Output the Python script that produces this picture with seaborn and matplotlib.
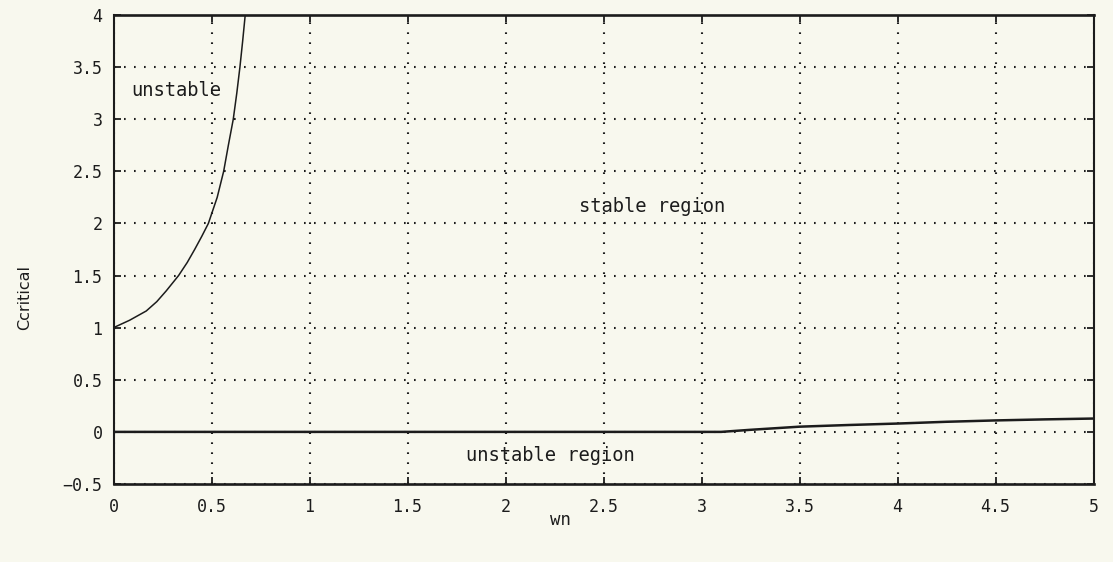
import numpy as np
import pandas as pd
import matplotlib
matplotlib.use("Agg")
import matplotlib.pyplot as plt
import seaborn as sns

# Upper stability boundary (left branch)
upper_wn = [0.0, 0.082, 0.167, 0.221, 0.269, 0.332, 0.376, 0.414, 0.450, 0.484,
            0.529, 0.562, 0.586, 0.611, 0.629, 0.645, 0.659, 0.672]
upper_c = [1.0, 1.071, 1.16, 1.25, 1.353, 1.5, 1.625, 1.75, 1.875, 2.0,
           2.25, 2.5, 2.75, 3.0, 3.25, 3.5, 3.75, 4.0]

# Lower stability boundary
lower_wn = [0.0, 1.0, 2.0, 3.0, 3.1, 3.25, 3.5, 3.75, 4.0, 4.25, 4.5, 4.75, 5.0]
lower_c = [0.0, 0.0, 0.0, 0.0, 0.0, 0.02, 0.05, 0.066, 0.08, 0.097, 0.11, 0.12, 0.128]

x_ticks = [0, 0.5, 1, 1.5, 2, 2.5, 3, 3.5, 4, 4.5, 5]
y_ticks = [-0.5, 0, 0.5, 1, 1.5, 2, 2.5, 3, 3.5, 4]
x_tick_labels = ["0", "0.5", "1", "1.5", "2", "2.5", "3", "3.5", "4", "4.5", "5"]
y_tick_labels = ["\u22120.5", "0", "0.5", "1", "1.5", "2", "2.5", "3", "3.5", "4"]

annotations = [
    ("unstable", 0.093, 3.28),
    ("stable region", 2.375, 2.16),
    ("unstable region", 1.80, -0.23),
]

bg = "#f8f8ee"
ink = "#1c1c1c"
mono = ["DejaVu Sans Mono", "DejaVu Sans"]

sns.set_theme(style="ticks")
plt.rcParams["font.family"] = mono

fig = plt.figure(figsize=(11.13, 5.62), dpi=100, facecolor=bg)
ax = fig.add_axes([113.5 / 1113, 1 - 484 / 562, 980 / 1113, (484 - 15) / 562])
ax.set_facecolor(bg)

df_up = pd.DataFrame({"wn": upper_wn, "c": upper_c})
df_lo = pd.DataFrame({"wn": lower_wn, "c": lower_c})
sns.lineplot(data=df_up, x="wn", y="c", ax=ax, color=ink, linewidth=1.1,
             sort=False, estimator=None)
sns.lineplot(data=df_lo, x="wn", y="c", ax=ax, color=ink, linewidth=1.8,
             sort=False, estimator=None)

ax.set_xlim(0, 5)
ax.set_ylim(-0.5, 4)
ax.set_xticks(x_ticks)
ax.set_xticklabels(x_tick_labels)
ax.set_yticks(y_ticks)
ax.set_yticklabels(y_tick_labels)
ax.grid(True, color=ink, linestyle=(0, (0.8, 4)), linewidth=1.5)
ax.set_axisbelow(True)

ax.tick_params(axis="both", direction="in", length=5, width=1.3, colors=ink,
               labelsize=12, top=True, right=True)
ax.tick_params(axis="x", pad=10)
ax.tick_params(axis="y", pad=8)
for s in ax.spines.values():
    s.set_color(ink)
    s.set_linewidth(1.5)
for side in ("top", "bottom"):
    ax.spines[side].set_linewidth(1.9)
ax.set_xlabel("")
ax.set_ylabel("")

for txt, x, y in annotations:
    ax.text(x, y, txt, fontsize=13.5, color=ink, ha="left", va="center")

fig.text(560 / 1113, 1 - 520 / 562, "wn", fontsize=12.5, color=ink,
         ha="center", va="center")
fig.text(25 / 1113, 1 - 297 / 562, "Ccritical", fontsize=11.5, color=ink,
         ha="center", va="center", rotation=90,
         family=["Liberation Sans Narrow", "DejaVu Sans"])

fig.savefig("out.png", dpi=100, facecolor=bg)
